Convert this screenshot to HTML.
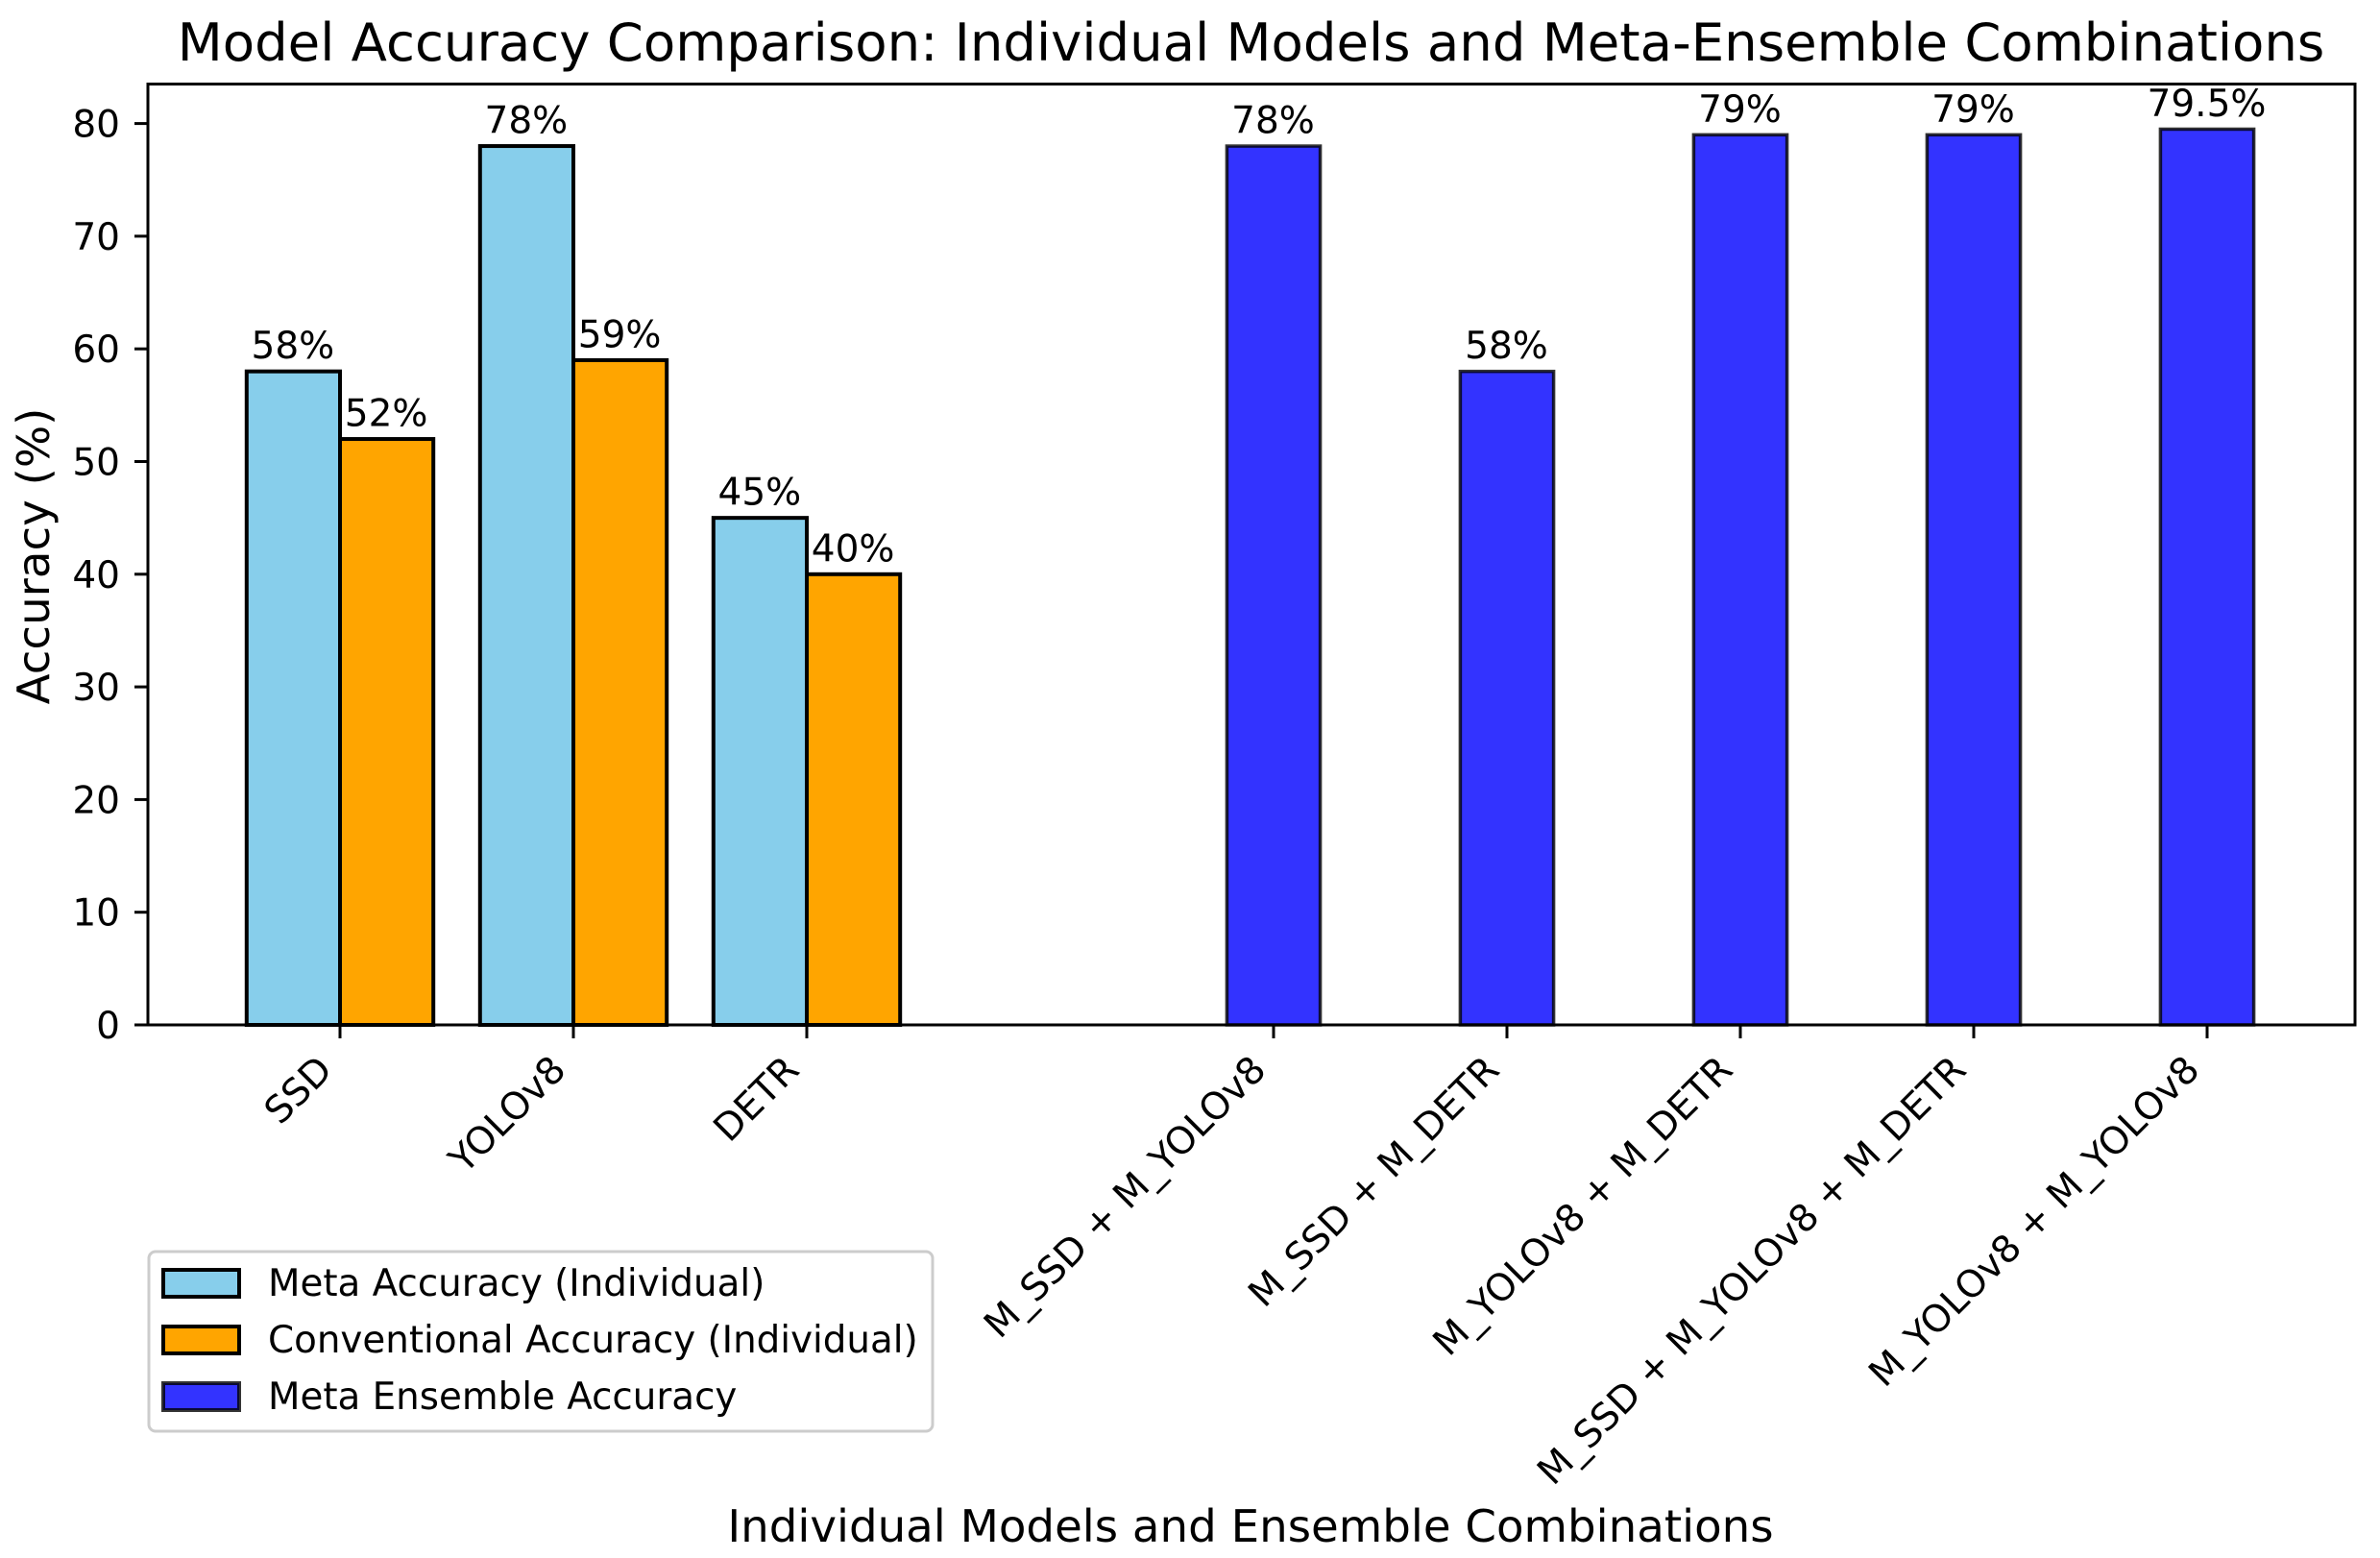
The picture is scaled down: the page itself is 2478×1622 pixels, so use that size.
<!DOCTYPE html>
<html lang="en">
<head>
<meta charset="utf-8">
<title>Model Accuracy Comparison</title>
<style>
html,body{margin:0;padding:0;background:#fff;width:2478px;height:1622px;overflow:hidden}
svg{display:block}
text{font-family:"DejaVu Sans",sans-serif;fill:#000}
</style>
</head>
<body>
<svg id="chart" xmlns="http://www.w3.org/2000/svg" width="2478" height="1622" viewBox="0 0 2478 1622">
  <rect x="0" y="0" width="2478" height="1622" fill="#fff"/>
  <text x="1302.5" y="63" text-anchor="middle" font-size="54.5">Model Accuracy Comparison: Individual Models and Meta-Ensemble Combinations</text>
  <g id="marks"></g>
  <g id="xaxis"></g>
  <g id="yaxis"></g>
  <rect x="154" y="87.5" width="2298" height="979.5" fill="none" stroke="#000" stroke-width="3"/>
  <text transform="translate(51 579) rotate(-90)" text-anchor="middle" font-size="46.7">Accuracy (%)</text>
  <text x="1302" y="1605" text-anchor="middle" font-size="46.7">Individual Models and Ensemble Combinations</text>
  <g>
    <rect x="155" y="1303" width="816" height="187" rx="7" fill="#fff" stroke="#ccc" stroke-width="3"/>
    <rect x="170" y="1322" width="79" height="28" fill="#87ceeb" stroke="#000" stroke-width="4"/>
    <text x="279" y="1349" font-size="38.8">Meta Accuracy (Individual)</text>
    <rect x="170" y="1381" width="79" height="28" fill="#ffa500" stroke="#000" stroke-width="4"/>
    <text x="279" y="1408" font-size="38.8">Conventional Accuracy (Individual)</text>
    <rect x="170" y="1440" width="79" height="28" fill="#0000ff" fill-opacity="0.8" stroke="#000" stroke-opacity="0.8" stroke-width="4"/>
    <text x="279" y="1467" font-size="38.8">Meta Ensemble Accuracy</text>
  </g>
</svg>
<script>
const individualModels = ["SSD", "YOLOv8", "DETR"];
const metaAccuracy = [58, 78, 45];
const conventionalAccuracy = [52, 59, 40];
const ensembleModels = ["M_SSD + M_YOLOv8", "M_SSD + M_DETR", "M_YOLOv8 + M_DETR", "M_SSD + M_YOLOv8 + M_DETR", "M_YOLOv8 + M_YOLOv8"];
const ensembleAccuracy = [78, 58, 79, 79, 79.5];
const yTickValues = [0, 10, 20, 30, 40, 50, 60, 70, 80];

const NS = "http://www.w3.org/2000/svg";
const marks = document.getElementById("marks");
const xaxis = document.getElementById("xaxis");
const yaxis = document.getElementById("yaxis");
const barWidthUnits = 0.4;
const ensembleStart = individualModels.length + 1;
function xScale(v) { return 354 + 243 * v; }
function yScale(v) { return 1067 - 11.73 * v; }
function make(tag, parent, attrs, txt) {
  const el = document.createElementNS(NS, tag);
  for (const k in attrs) el.setAttribute(k, attrs[k]);
  if (txt !== undefined) el.textContent = txt;
  parent.appendChild(el);
  return el;
}
function drawBar(parent, left, value, style) {
  const x0 = xScale(left), x1 = xScale(left + barWidthUnits);
  return make("rect", parent, Object.assign({ x: x0, y: yScale(value), width: x1 - x0, height: yScale(0) - yScale(value) }, style));
}
function drawValue(parent, center, value) {
  return make("text", parent, { x: xScale(center) - 0.5, y: yScale(value) - 13.5, "text-anchor": "middle", "font-size": 39 }, value + "%");
}
function drawXTick(pos, label) {
  const t = xScale(pos);
  const tick = make("line", xaxis, { x1: t, x2: t, y1: 1067, y2: 1081, stroke: "#000", "stroke-width": 3 });
  
  
  const lab = make("text", xaxis, { transform: "translate(" + (t - 6) + " 1116) rotate(-45)", "text-anchor": "end", "font-size": 39 }, label);
  
  
}
const solid = { "stroke-width": 4, stroke: "#000" };
individualModels.forEach((name, i) => {
  const a = drawBar(marks, i - barWidthUnits, metaAccuracy[i], Object.assign({ fill: "#87ceeb" }, solid));
  
  
  const b = drawBar(marks, i, conventionalAccuracy[i], Object.assign({ fill: "#ffa500" }, solid));
  
  
  const la = drawValue(marks, i - barWidthUnits / 2, metaAccuracy[i]);
  
  
  const lb = drawValue(marks, i + barWidthUnits / 2, conventionalAccuracy[i]);
  
  
  drawXTick(i, name);
});
ensembleModels.forEach((name, i) => {
  const pos = ensembleStart + i;
  const c = drawBar(marks, pos - barWidthUnits / 2, ensembleAccuracy[i], { fill: "#0000ff", "fill-opacity": 0.8, stroke: "#000", "stroke-opacity": 0.8, "stroke-width": 3.5 });
  
  
  const lc = drawValue(marks, pos, ensembleAccuracy[i]);
  
  
  drawXTick(pos, name);
});
yTickValues.forEach(v => {
  const y = yScale(v);
  const tick = make("line", yaxis, { x1: 140, x2: 154, y1: y, y2: y, stroke: "#000", "stroke-width": 3 });
  
  
  const lab = make("text", yaxis, { x: 125, y: y + 14, "text-anchor": "end", "font-size": 39 }, String(v));
  
  
});
</script>
</body>
</html>
